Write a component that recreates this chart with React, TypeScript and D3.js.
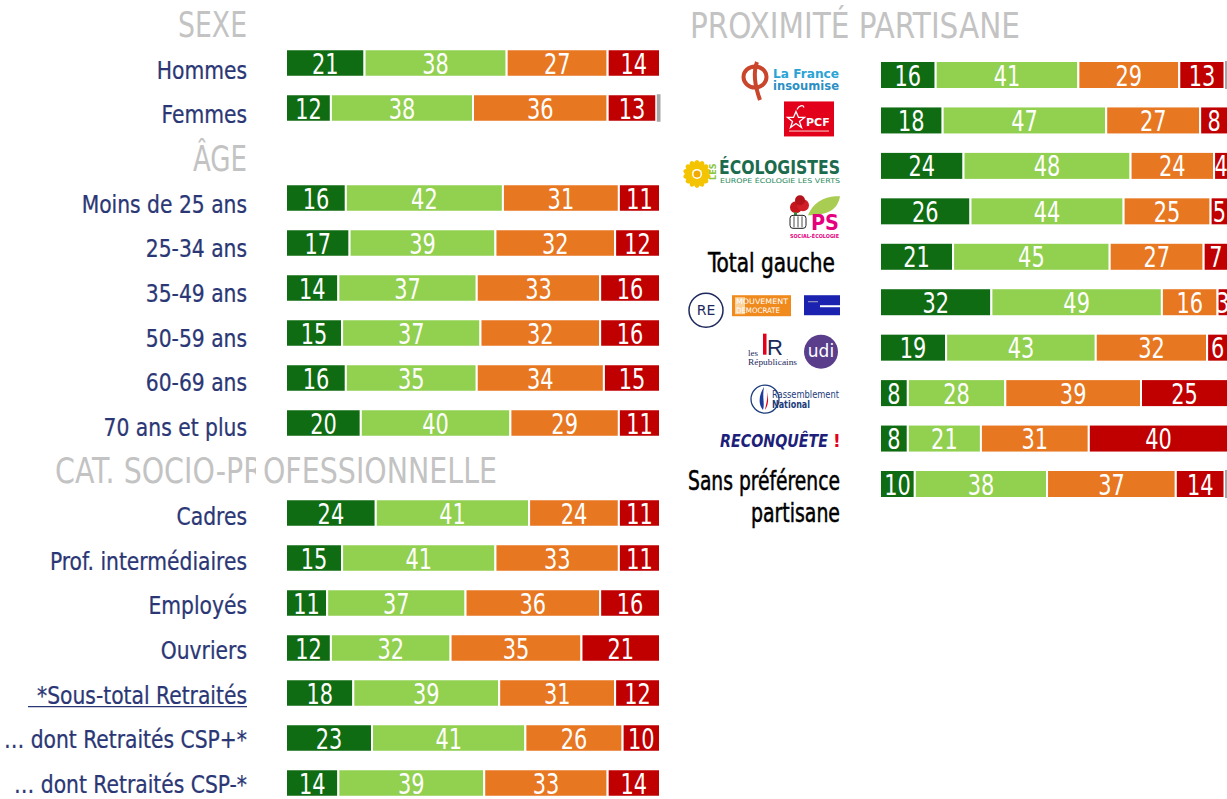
import React from "react";
import * as d3 from "d3";

const seriesKeys = ["s1", "s2", "s3", "s4", "s5"];
const seriesColors = ["#106c12", "#92d050", "#e87722", "#c00000", "#a6a6a6"];

const leftSlots = [
  "SEXE", "Hommes", "Femmes", "ÂGE", "Moins de 25 ans", "25-34 ans", "35-49 ans",
  "50-59 ans", "60-69 ans", "70 ans et plus", "CAT. SOCIO-PROFESSIONNELLE", "Cadres",
  "Prof. intermédiaires", "Employés", "Ouvriers", "*Sous-total Retraités",
  "… dont Retraités CSP+*", "… dont Retraités CSP-*",
];
const leftHeaders = ["SEXE", "ÂGE", "CAT. SOCIO-PROFESSIONNELLE"];
const leftCategories = leftSlots.filter((s) => !leftHeaders.includes(s));
const leftS1 = [21, 12, 16, 17, 14, 15, 16, 20, 24, 15, 11, 12, 18, 23, 14];
const leftS2 = [38, 38, 42, 39, 37, 37, 35, 40, 41, 41, 37, 32, 39, 41, 39];
const leftS3 = [27, 36, 31, 32, 33, 32, 34, 29, 24, 33, 36, 35, 31, 26, 33];
const leftS4 = [14, 13, 11, 12, 16, 16, 15, 11, 11, 11, 16, 21, 12, 10, 14];
const leftS5 = [0, 1, 0, 0, 0, 0, 0, 0, 0, 0, 0, 0, 0, 0, 0];

const rightHeader = "PROXIMITÉ PARTISANE";
const rightCategories = [
  "La France insoumise", "PCF", "Les Écologistes", "PS", "Total gauche", "Ensemble",
  "LR / UDI", "Rassemblement National", "Reconquête", "Sans préférence partisane",
];
const rightS1 = [16, 18, 24, 26, 21, 32, 19, 8, 8, 10];
const rightS2 = [41, 47, 48, 44, 45, 49, 43, 28, 21, 38];
const rightS3 = [29, 27, 24, 25, 27, 16, 32, 39, 31, 37];
const rightS4 = [13, 8, 4, 5, 7, 3, 6, 25, 40, 14];
const rightS5 = [1, 0, 0, 0, 0, 0, 0, 0, 0, 1];

const FONT = "'DejaVu Sans Condensed', 'DejaVu Sans', sans-serif";
const NAVY = "#2b3775";

function buildTable(cats: string[], arrs: number[][]) {
  return cats.map((c, i) => {
    const o: any = { cat: c };
    seriesKeys.forEach((k, j) => (o[k] = arrs[j][i]));
    return o;
  });
}

const leftTable = buildTable(leftCategories, [leftS1, leftS2, leftS3, leftS4, leftS5]);
const rightTable = buildTable(rightCategories, [rightS1, rightS2, rightS3, rightS4, rightS5]);
const stacker = d3.stack<any>().keys(seriesKeys);

function Bars({ table, x, y, h }: any) {
  const stacked = stacker(table);
  return (
    <g>
      {stacked.map((layer, li) =>
        layer.map((d: any, i: number) => {
          const v = d[1] - d[0];
          if (v <= 0) return null;
          const cat = table[i].cat;
          const cy = y(cat);
          const x0 = x(d[0]);
          const x1 = x(d[1]);
          const small = li === 4;
          return (
            <g key={li + "-" + i}>
              <rect x={small ? x0 + 0.5 : x0} y={cy - h / 2} width={small ? x1 - x0 : x1 - x0} height={h} fill={seriesColors[li]} stroke={small ? "none" : "#fff"} strokeWidth={2} />
              {!small && (
                <text transform={`translate(${(x0 + x1) / 2},${cy + 10.5}) scale(0.8,1)`} textAnchor="middle" fill="#fff" fontSize={29} fontFamily={FONT}>
                  {v}
                </text>
              )}
            </g>
          );
        })
      )}
    </g>
  );
}

function Logo({ name, cy }: { name: string; cy: number }) {
  switch (name) {
    case "La France insoumise":
      return (
        <g>
          <ellipse cx={755} cy={cy + 2} rx={11.5} ry={10.5} fill="none" stroke="#c9452c" strokeWidth={4} />
          <path d={`M757,${cy - 13} C752,${cy} 756,${cy + 14} 760,${cy + 25}`} fill="none" stroke="#c9452c" strokeWidth={4} />
          <text x={773} y={cy + 3} fontSize={12.5} fontWeight="bold" fill="#2aa3d5" fontFamily="'DejaVu Sans', sans-serif" textLength={66} lengthAdjust="spacingAndGlyphs">La France</text>
          <text x={773} y={cy + 15} fontSize={12.5} fontWeight="bold" fill="#2b8fc4" fontFamily="'DejaVu Sans', sans-serif" textLength={66} lengthAdjust="spacingAndGlyphs">insoumise</text>
        </g>
      );
    case "PCF":
      return (
        <g>
          <rect x={784} y={cy - 19} width={50} height={35} fill="#e3001b" />
          <path d={`M796,${cy - 9} l2.5,6 6,0 -5,4 2,6 -5.5,-4 -5.5,4 2,-6 -5,-4 6,0z`} fill="none" stroke="#fff" strokeWidth={1.3} />
          <path d={`M797,${cy - 11} c2,-4 6,-5 7,-2`} fill="none" stroke="#fff" strokeWidth={1.2} />
          <text x={806} y={cy + 6} fontSize={11} fontWeight="bold" fill="#fff" fontFamily="'DejaVu Sans', sans-serif">PCF</text>
          <rect x={789} y={cy + 10} width={40} height={1.2} fill="#f6b0b0" />
        </g>
      );
    case "Les Écologistes": {
      const petals = d3.range(14).map((i) => (i * 360) / 14);
      return (
        <g>
          <g transform={`translate(697,${cy + 8})`}>
            {petals.map((a) => (
              <ellipse key={a} cx={0} cy={-8.5} rx={3.2} ry={5.5} fill="#f5c400" transform={`rotate(${a})`} />
            ))}
            <circle r={5} fill="#fff" />
            <circle r={3.5} fill="#f2a900" />
          </g>
          <text transform={`translate(716,${cy + 14}) rotate(-90)`} fontSize={8} fontWeight="bold" fill="#8cc63f" fontFamily="'DejaVu Sans', sans-serif">LES</text>
          <text x={719} y={cy + 8} fontSize={19} fontWeight="bold" fill="#1c6b4d" fontFamily="'DejaVu Sans Condensed', 'DejaVu Sans', sans-serif" textLength={121} lengthAdjust="spacingAndGlyphs">ÉCOLOGISTES</text>
          <text x={720} y={cy + 17} fontSize={6.5} fill="#2c8a5c" fontFamily="'DejaVu Sans', sans-serif" textLength={120} lengthAdjust="spacingAndGlyphs">EUROPE ÉCOLOGIE LES VERTS</text>
        </g>
      );
    }
    case "PS":
      return (
        <g>
          <path d={`M808,${cy + 4} C814,${cy - 12} 830,${cy - 16} 840,${cy - 15} C838,${cy - 2} 828,${cy + 4} 808,${cy + 4}z`} fill="#a9cc52" />
          <circle cx={796} cy={cy - 4} r={6} fill="#c4161c" />
          <circle cx={803} cy={cy - 6} r={6} fill="#d01f28" />
          <circle cx={800} cy={cy - 11} r={5} fill="#b3131a" />
          <rect x={794} y={cy + 1} width={3} height={6} fill="#3a8d3a" />
          <rect x={790} y={cy + 4} width={16} height={13} rx={3} fill="#fff" stroke="#222" strokeWidth={1} />
          <path d={`M794,${cy + 5} v11 M798,${cy + 5} v11 M802,${cy + 5} v11`} stroke="#222" strokeWidth={0.8} />
          <text x={811} y={cy + 19} fontSize={21} fontWeight="bold" fill="#e5007d" fontFamily="'DejaVu Sans Condensed', 'DejaVu Sans', sans-serif" textLength={28} lengthAdjust="spacingAndGlyphs">PS</text>
          <text x={790} y={cy + 27} fontSize={5.5} fontWeight="bold" fill="#e5007d" fontFamily="'DejaVu Sans', sans-serif" textLength={49} lengthAdjust="spacingAndGlyphs">SOCIAL-ÉCOLOGIE</text>
        </g>
      );
    case "Total gauche":
      return (
        <text x={835} y={cy + 15} textAnchor="end" fontSize={26} fill="#000" fontFamily={FONT} stroke="#000" strokeWidth={0.5} textLength={127} lengthAdjust="spacingAndGlyphs">Total gauche</text>
      );
    case "Ensemble":
      return (
        <g>
          <circle cx={706} cy={cy + 8} r={17} fill="#fff" stroke="#1e2a5e" strokeWidth={1.5} />
          <text x={706} y={cy + 13} textAnchor="middle" fontSize={14} fill="#1e2a5e" fontFamily="'DejaVu Sans', sans-serif">RE</text>
          <rect x={732} y={cy - 7} width={59} height={21} fill="#f08a1c" />
          <rect x={735} y={cy - 5} width={10} height={17} fill="#fbd29c" />
          <text x={736} y={cy + 2} fontSize={7.5} fill="#fff" fontFamily="'DejaVu Sans', sans-serif" textLength={52} lengthAdjust="spacingAndGlyphs">MOUVEMENT</text>
          <text x={736} y={cy + 11} fontSize={7.5} fill="#fff" fontFamily="'DejaVu Sans', sans-serif" textLength={44} lengthAdjust="spacingAndGlyphs">DEMOCRATE</text>
          <rect x={804} y={cy - 7} width={36} height={20} fill="#1b22b0" />
          <rect x={820} y={cy + 3} width={20} height={2} fill="#fff" />
          <rect x={808} y={cy - 1} width={10} height={1} fill="#aab" />
        </g>
      );
    case "LR / UDI":
      return (
        <g>
          <text x={748} y={cy + 8} fontSize={9} fill="#1b2a5a" fontFamily="'Liberation Serif', serif">les</text>
          <rect x={763} y={cy - 14} width={3.5} height={21} fill="#e2001a" />
          <text x={767} y={cy + 7} fontSize={22} fill="#1b2a5a" fontFamily="'Liberation Sans', sans-serif">R</text>
          <text x={748} y={cy + 17} fontSize={9} fill="#1b2a5a" fontFamily="'Liberation Serif', serif" textLength={49} lengthAdjust="spacingAndGlyphs">Républicains</text>
          <circle cx={821} cy={cy + 4} r={17} fill="#5a3e8c" />
          <text x={821} y={cy + 9} textAnchor="middle" fontSize={17} fill="#fff" fontFamily="'DejaVu Sans', sans-serif">udi</text>
        </g>
      );
    case "Rassemblement National":
      return (
        <g>
          <circle cx={765} cy={cy + 6} r={14} fill="#fff" stroke="#1c3b7a" strokeWidth={1.3} />
          <path d={`M763,${cy + 17} C757,${cy + 10} 760,${cy} 764,${cy - 6} C762,${cy + 4} 765,${cy + 10} 763,${cy + 17}z`} fill="#1c3b9c" />
          <path d={`M765,${cy + 17} C770,${cy + 10} 768,${cy + 2} 766,${cy - 4} C769,${cy + 4} 766,${cy + 10} 765,${cy + 17}z`} fill="#e1001a" />
          <text x={772} y={cy + 5} fontSize={10} fill="#1c3b7a" fontFamily="'DejaVu Sans', sans-serif" textLength={67} lengthAdjust="spacingAndGlyphs">Rassemblement</text>
          <text x={772} y={cy + 15} fontSize={10} fontWeight="bold" fill="#1c3b7a" fontFamily="'DejaVu Sans', sans-serif" textLength={38} lengthAdjust="spacingAndGlyphs">National</text>
        </g>
      );
    case "Reconquête":
      return (
        <g>
          <text x={720} y={cy + 8} fontSize={17} fontWeight="bold" fontStyle="italic" fill="#1d1f7a" fontFamily="'DejaVu Sans', sans-serif" textLength={108} lengthAdjust="spacingAndGlyphs">RECONQUÊTE</text>
          <text x={833} y={cy + 8} fontSize={17} fontWeight="bold" fill="#e2001a" fontFamily="'DejaVu Sans', sans-serif">!</text>
        </g>
      );
    case "Sans préférence partisane":
      return (
        <g>
          <text x={840} y={cy + 6} textAnchor="end" fontSize={26} fill="#000" fontFamily={FONT} stroke="#000" strokeWidth={0.5} textLength={152} lengthAdjust="spacingAndGlyphs">Sans préférence</text>
          <text x={840} y={cy + 38} textAnchor="end" fontSize={26} fill="#000" fontFamily={FONT} stroke="#000" strokeWidth={0.5} textLength={89} lengthAdjust="spacingAndGlyphs">partisane</text>
        </g>
      );
    default:
      return null;
  }
}

export default function App() {
  const W = 1227;
  const H = 799;
  const xL = d3.scaleLinear().domain([0, 100]).range([286, 660]);
  const yL = d3.scalePoint<string>().domain(leftSlots).range([18, 783]);
  const yLText = d3.scalePoint<string>().domain(leftSlots).range([34, 793]);
  const xR = d3.scaleLinear().domain([0, 100]).range([880, 1228]);
  const yR = d3.scalePoint<string>().domain(rightCategories).range([75, 484]);

  const headerGeom: Record<string, [number, number]> = {
    SEXE: [178, 247],
    "ÂGE": [193, 247],
    "CAT. SOCIO-PROFESSIONNELLE": [55, 497],
  };
  const subY = yLText("*Sous-total Retraités") as number;

  return (
    <svg width={W} height={H} style={{ position: "absolute", left: 0, top: 0, background: "#fff" }}>
      <rect width={W} height={H} fill="#fff" />
      {leftHeaders.map((hd) => {
        const [a, b] = headerGeom[hd];
        return (
          <text key={hd} x={a} y={(yLText(hd) as number) + 3} fontSize={36} fill="#c3c3c3" fontFamily={FONT} textLength={b - a} lengthAdjust="spacingAndGlyphs">
            {hd}
          </text>
        );
      })}
      <rect x={256} y={448} width={7} height={38} fill="#fff" />
      {leftCategories.map((c) => (
        <text key={c} transform={`translate(247,${yLText(c) as number}) scale(0.94,1)`} textAnchor="end" fontSize={24} fill={NAVY} fontFamily={FONT} stroke={NAVY} strokeWidth={0.25}>
          {c}
        </text>
      ))}
      <line x1={28} x2={247} y1={subY + 3} y2={subY + 3} stroke={NAVY} strokeWidth={1.2} />
      <Bars table={leftTable} x={xL} y={yL} h={27.5} />

      <text x={690} y={38} fontSize={36} fill="#c3c3c3" fontFamily={FONT} textLength={330} lengthAdjust="spacingAndGlyphs">{rightHeader}</text>
      {rightCategories.map((c) => (
        <Logo key={c} name={c} cy={yR(c) as number} />
      ))}
      <Bars table={rightTable} x={xR} y={yR} h={28} />
    </svg>
  );
}
